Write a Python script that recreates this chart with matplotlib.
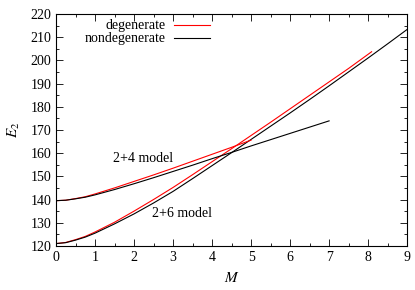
import numpy as np
import matplotlib.pyplot as plt
from matplotlib.ticker import MultipleLocator

plt.rcParams['font.family'] = ['Liberation Serif', 'DejaVu Serif']
plt.rcParams['mathtext.fontset'] = 'stix'

# 2+6 model
m26_nd = [0, 0.25, 0.5, 0.75, 1, 1.5, 2, 2.5, 3, 3.5, 4, 4.5, 5, 5.5, 6, 6.5,
          7, 7.5, 8, 8.5, 9]
e26_nd = [121.0, 121.4, 122.5, 123.8, 125.5, 129.5, 133.8, 138.5, 143.5, 149.0,
          154.6, 160.2, 165.9, 171.6, 177.3, 183.1, 189.0, 195.0, 201.0, 207.1,
          213.3]
m26_d = [0, 0.25, 0.5, 0.75, 1, 1.5, 2, 2.5, 3, 3.5, 4, 4.5, 5, 5.5, 6, 6.5,
         7, 7.5, 8, 8.09]
e26_d = [121.0, 121.5, 122.7, 124.1, 126.0, 130.2, 135.0, 140.0, 145.2, 150.7,
         156.3, 161.9, 167.6, 173.3, 179.1, 184.9, 190.7, 196.5, 202.6, 203.7]

# 2+4 model
m24_nd = [0, 0.25, 0.5, 0.75, 1, 1.5, 2, 2.5, 3, 3.5, 4, 4.5, 5, 5.5, 6, 6.5, 7]
e24_nd = [139.5, 139.7, 140.3, 141.0, 142.0, 144.3, 146.8, 149.4, 152.1, 154.8,
          157.6, 160.3, 163.1, 165.8, 168.5, 171.2, 173.9]
m24_d = [0, 0.25, 0.5, 0.75, 1, 1.5, 2, 2.5, 3, 3.5, 4, 4.5, 5]
e24_d = [139.5, 139.7, 140.4, 141.2, 142.4, 145.0, 147.8, 150.6, 153.5, 156.5,
         159.5, 162.5, 165.6]

fig = plt.figure(figsize=(4.15, 2.9), dpi=100)
ax = fig.add_axes([0.135, 0.152, 0.846, 0.8])

lw = 0.8
ax.plot(m26_d, e26_d, color='red', lw=lw, label='degenerate')
ax.plot(m26_nd, e26_nd, color='black', lw=lw, label='nondegenerate')
ax.plot(m24_d, e24_d, color='red', lw=lw)
ax.plot(m24_nd, e24_nd, color='black', lw=lw)

ax.text(2.23, 157.8, '2+4 model', ha='center', va='center', fontsize=10)
ax.text(3.23, 134.1, '2+6 model', ha='center', va='center', fontsize=10)

ax.set_xlim(0, 9)
ax.set_ylim(120, 220)
ax.xaxis.set_major_locator(MultipleLocator(1))
ax.xaxis.set_minor_locator(MultipleLocator(0.5))
ax.yaxis.set_major_locator(MultipleLocator(10))
ax.yaxis.set_minor_locator(MultipleLocator(5))
ax.tick_params(which='both', direction='in', top=True, right=True, labelsize=10)
ax.tick_params(which='major', length=5, width=0.6)
ax.tick_params(which='minor', length=2.5, width=0.6)
for s in ax.spines.values():
    s.set_linewidth(0.8)

ax.set_xlabel('$M$', fontsize=11, labelpad=5)
ax.set_ylabel('$E_2$', fontsize=11, labelpad=6)

ax.legend(loc='upper left', bbox_to_anchor=(0.045, 1.03), frameon=False,
          markerfirst=False, handlelength=2.6, fontsize=10,
          labelspacing=0.0, handletextpad=0.6)

fig.savefig('out.png', dpi=100)
